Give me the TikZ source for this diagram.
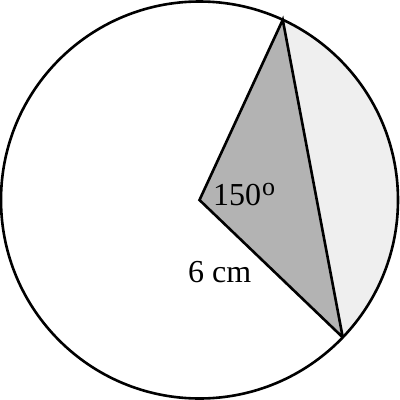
\documentclass[tikz,border=0pt]{standalone}
\usepackage{fontspec}
\setmainfont{Liberation Serif}
\usetikzlibrary{calc}
\begin{document}
\begin{tikzpicture}[x=1pt,y=-1pt,
  edge/.style={draw=black,line width=2.6pt,line join=miter},
  lbl/.style={font=\fontsize{32}{32}\selectfont,inner sep=0pt}]
\useasboundingbox (0,0) rectangle (400,400);
\coordinate (O) at (199.5,200);
\coordinate (A) at ($(O)+(-65.2:198.5)$);
\coordinate (B) at ($(O)+(43.8:198.5)$);
% segment
\fill[fill={rgb,255:red,239;green,239;blue,239}] (A) arc[start angle=-65.2,end angle=43.8,radius=198.5] -- cycle;
% triangle
\fill[fill={rgb,255:red,179;green,179;blue,179}] (O) -- (A) -- (B) -- cycle;
\draw[edge] (O) circle[radius=198.5];
\draw[edge] (B) -- (O) -- (A) -- (B);
\node[lbl,anchor=base west] (ang) at (213,205) {150\hspace{1pt}\raisebox{10pt}{\fontsize{26}{26}\selectfont o}};
\node[lbl,anchor=base west] (len) at (188,282) {6 cm};
\end{tikzpicture}
\end{document}
